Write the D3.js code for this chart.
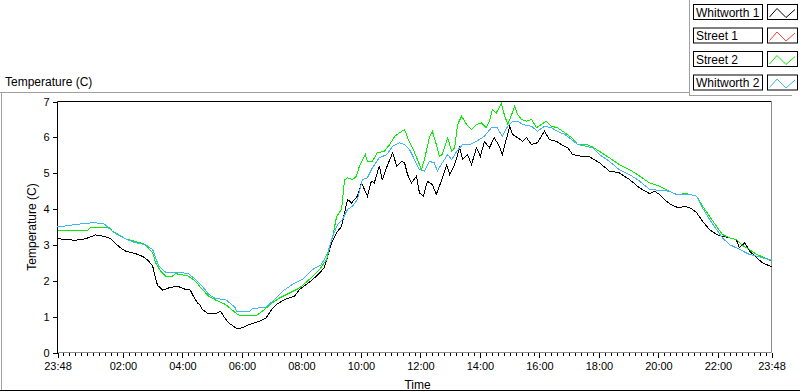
<!DOCTYPE html>
<html>
<head>
<meta charset="utf-8">
<script src="https://cdnjs.cloudflare.com/ajax/libs/d3/7.8.5/d3.min.js"></script>
<style>
  body { margin: 0; background: #fff; }
  text { font-family: "Liberation Sans", Arial, sans-serif; fill: #000; }
</style>
</head>
<body>
<script>
// Series data: [minutes after 23:48, temperature C]
var whitworth1 = [
  [0,3.18],[16,3.15],[36,3.13],[56,3.17],[77,3.28],[97,3.23],[107,3.17],[117,3.04],[127,2.92],[137,2.83],
  [157,2.76],[173,2.67],[184,2.55],[192,2.41],[198,2.04],[202,1.87],[212,1.74],[224,1.80],[242,1.85],[258,1.76],
  [268,1.74],[274,1.57],[282,1.39],[288,1.31],[292,1.20],[303,1.09],[319,1.09],[329,1.15],[335,1.01],[345,0.83],
  [359,0.69],[367,0.66],[387,0.78],[407,0.87],[421,0.97],[432,1.20],[442,1.34],[458,1.48],[478,1.57],[488,1.76],
  [508,1.96],[524,2.15],[538,2.36],[545,2.69],[553,3.06],[563,3.34],[573,3.52],[579,3.90],[585,4.27],[593,4.17],
  [599,4.27],[605,4.36],[613,4.73],[619,4.55],[625,4.36],[633,4.78],[639,4.73],[649,5.20],[655,4.82],[666,5.24],
  [676,5.57],[684,5.20],[694,5.33],[700,5.29],[706,4.96],[714,4.73],[724,4.92],[730,4.45],[738,4.36],[746,4.78],
  [756,4.68],[764,4.41],[774,4.78],[785,5.24],[791,4.96],[801,5.24],[811,5.71],[817,5.38],[827,5.52],[835,5.24],
  [845,5.71],[853,5.47],[861,5.89],[871,5.71],[881,5.99],[891,5.75],[897,5.52],[906,5.99],[912,6.31],[918,6.08],
  [928,5.99],[938,5.89],[946,5.99],[956,5.80],[968,5.85],[982,6.17],[992,5.94],[1006,5.89],[1016,5.80],[1029,5.71],
  [1039,5.52],[1057,5.47],[1073,5.46],[1093,5.29],[1113,5.06],[1133,5.01],[1154,4.82],[1174,4.59],[1194,4.43],[1204,4.50],
  [1214,4.41],[1228,4.22],[1240,4.10],[1254,4.03],[1265,4.08],[1279,4.01],[1289,3.90],[1301,3.66],[1315,3.43],[1329,3.29],
  [1341,3.24],[1355,3.20],[1369,3.15],[1375,2.92],[1386,3.06],[1396,2.83],[1410,2.64],[1422,2.50],[1440,2.39]
];

var street1 = [];

var street2 = [
  [0,3.40],[61,3.40],[67,3.50],[103,3.50],[111,3.38],[123,3.29],[137,3.17],[157,3.10],[177,3.01],[192,2.78],
  [198,2.50],[208,2.27],[218,2.13],[232,2.13],[238,2.20],[264,2.13],[278,1.99],[292,1.76],[305,1.57],[319,1.46],
  [339,1.34],[359,1.11],[367,1.03],[401,1.03],[413,1.15],[434,1.39],[448,1.52],[468,1.66],[488,1.80],[508,2.04],
  [528,2.31],[543,2.59],[549,2.96],[555,3.24],[563,3.80],[573,3.99],[579,4.82],[585,4.87],[595,4.82],[603,4.92],
  [609,5.20],[621,5.52],[625,5.33],[635,5.33],[645,5.57],[659,5.61],[670,5.80],[680,6.03],[690,6.13],[700,6.22],
  [706,5.99],[716,5.71],[726,5.38],[734,5.10],[740,5.38],[750,5.99],[756,6.17],[764,5.80],[770,5.47],[776,5.52],
  [787,5.99],[795,5.61],[801,5.71],[807,6.36],[815,6.59],[825,6.36],[835,6.22],[845,6.36],[855,6.40],[865,6.27],
  [871,6.45],[877,6.78],[885,6.68],[895,6.95],[901,6.64],[908,6.36],[916,6.64],[922,6.87],[928,6.64],[936,6.50],
  [946,6.45],[956,6.50],[966,6.27],[976,6.36],[986,6.45],[996,6.31],[1008,6.27],[1023,6.13],[1037,5.99],[1049,5.80],
  [1067,5.80],[1079,5.73],[1093,5.61],[1113,5.43],[1133,5.24],[1154,5.10],[1174,4.92],[1194,4.73],[1214,4.64],[1234,4.50],
  [1248,4.41],[1269,4.43],[1289,4.36],[1301,4.08],[1315,3.80],[1329,3.52],[1341,3.29],[1355,3.20],[1369,3.15],[1382,2.98],
  [1396,2.87],[1410,2.73],[1422,2.67],[1440,2.55]
];

var whitworth2 = [
  [0,3.50],[36,3.57],[71,3.62],[93,3.60],[101,3.50],[113,3.35],[137,3.17],[157,3.06],[177,3.01],[192,2.87],
  [204,2.41],[218,2.24],[244,2.24],[264,2.20],[278,2.04],[292,1.85],[305,1.62],[319,1.50],[339,1.48],[359,1.25],
  [361,1.13],[387,1.15],[393,1.22],[421,1.27],[434,1.43],[454,1.71],[474,1.90],[494,2.04],[514,2.31],[532,2.45],
  [545,2.78],[555,3.24],[565,3.57],[575,3.71],[585,3.99],[595,4.08],[605,4.27],[615,4.82],[625,4.87],[635,5.15],
  [649,5.43],[664,5.52],[676,5.75],[690,5.85],[700,5.80],[710,5.66],[720,5.38],[730,5.10],[740,5.06],[750,5.33],
  [760,5.29],[766,5.06],[776,5.29],[787,5.52],[795,5.38],[805,5.61],[817,5.80],[831,5.80],[845,5.89],[861,6.03],
  [875,6.27],[887,6.27],[897,6.03],[908,6.31],[918,6.45],[928,6.45],[938,6.36],[956,6.31],[968,6.17],[982,6.31],
  [996,6.27],[1008,6.17],[1023,6.08],[1037,5.94],[1049,5.80],[1067,5.75],[1079,5.71],[1093,5.52],[1113,5.33],[1133,5.10],
  [1154,4.96],[1174,4.78],[1194,4.55],[1214,4.52],[1234,4.50],[1248,4.41],[1275,4.41],[1289,4.36],[1301,4.03],[1315,3.71],
  [1329,3.43],[1341,3.20],[1355,3.01],[1369,2.92],[1382,2.83],[1396,2.73],[1410,2.69],[1422,2.64],[1440,2.59]
];

var seriesNames = ["Whitworth 1", "Street 1", "Street 2", "Whitworth 2"];
var seriesColors = ["#000000", "#ff3c3c", "#00f000", "#40b4f4"];
var seriesData = [whitworth1, street1, street2, whitworth2];

var xTickLabels = ["23:48", "02:00", "04:00", "06:00", "08:00", "10:00", "12:00",
  "14:00", "16:00", "18:00", "20:00", "22:00", "23:48"];
var yTickValues = [0, 1, 2, 3, 4, 5, 6, 7];

// SVG area
var svgWidth = 800;
var svgHeight = 392;

var plot = { left: 57.5, right: 771.5, top: 101.5, bottom: 352.5 };

var svg = d3.select("body")
  .append("svg")
  .attr("width", svgWidth)
  .attr("height", svgHeight);

// scales
var xScale = d3.scaleLinear().domain([0, 1440]).range([plot.left, plot.right]);
var yScale = d3.scaleLinear().domain([0, 7]).range([plot.bottom, plot.top]);

// label -> minutes after 23:48
function labelMinutes(lbl, i) {
  if (i === xTickLabels.length - 1) return 1440;
  var p = lbl.split(":");
  var m = (+p[0]) * 60 + (+p[1]);
  return (m - (23 * 60 + 48) + 1440) % 1440;
}
var xTickValues = xTickLabels.map(labelMinutes);
var minorTicks = d3.range(0, 1441, 12);

// outer panel frame
svg.append("line").attr("x1", 0).attr("x2", 689).attr("y1", 92.5).attr("y2", 92.5).attr("stroke", "#a0a0a0");
svg.append("line").attr("x1", 1.5).attr("x2", 1.5).attr("y1", 92).attr("y2", 391).attr("stroke", "#a0a0a0");
svg.append("line").attr("x1", 0).attr("x2", 800).attr("y1", 390.5).attr("y2", 390.5).attr("stroke", "#000");
svg.append("line").attr("x1", 689.5).attr("x2", 689.5).attr("y1", 0).attr("y2", 95).attr("stroke", "#a0a0a0");
svg.append("line").attr("x1", 689).attr("x2", 792).attr("y1", 95.5).attr("y2", 95.5).attr("stroke", "#a0a0a0");

// title top-left
svg.append("text")
  .attr("x", 5)
  .attr("y", 86)
  .style("font-size", "12px")
  .text("Temperature (C)");

// y axis
var leftAxis = d3.axisLeft(yScale).tickValues(yTickValues).tickSize(5).tickPadding(3).tickFormat(d3.format("d"));
svg.append("g")
  .attr("transform", "translate(" + plot.left + ",0)")
  .call(leftAxis)
  .call(g => g.select(".domain").remove())
  .call(g => g.selectAll("text").style("font-size", "11px").attr("fill", "#000"))
  .call(g => g.selectAll("line").attr("shape-rendering", "crispEdges"));

// x axis minor ticks
svg.append("g")
  .attr("transform", "translate(0," + plot.bottom + ")")
  .call(d3.axisBottom(xScale).tickValues(minorTicks).tickSize(3).tickFormat(""))
  .call(g => g.select(".domain").remove())
  .call(g => g.selectAll("line").attr("shape-rendering", "crispEdges"));

// x axis major ticks + labels
svg.append("g")
  .attr("transform", "translate(0," + plot.bottom + ")")
  .call(d3.axisBottom(xScale).tickValues(xTickValues).tickSize(5).tickPadding(5)
    .tickFormat((d, i) => xTickLabels[i]))
  .call(g => g.select(".domain").remove())
  .call(g => g.selectAll("text").style("font-size", "11px").attr("fill", "#000"))
  .call(g => g.selectAll("line").attr("shape-rendering", "crispEdges"));

// plot frame: top/left black, bottom/right grey
svg.append("line").attr("x1", plot.left).attr("x2", plot.right).attr("y1", plot.top).attr("y2", plot.top).attr("stroke", "#000");
svg.append("line").attr("x1", plot.left).attr("x2", plot.left).attr("y1", plot.top).attr("y2", plot.bottom + 1).attr("stroke", "#000");
svg.append("line").attr("x1", plot.left + 1).attr("x2", plot.right).attr("y1", plot.bottom).attr("y2", plot.bottom).attr("stroke", "#8c8c8c");
svg.append("line").attr("x1", plot.right).attr("x2", plot.right).attr("y1", plot.top).attr("y2", plot.bottom).attr("stroke", "#8c8c8c");

// lines (aliased 1px, like the instrument display)
var line = d3.line()
  .x(d => xScale(d[0]))
  .y(d => yScale(d[1]));

svg.append("g")
  .selectAll("path")
  .data(seriesData)
  .enter()
  .append("path")
  .attr("d", d => d.length ? line(d) : null)
  .attr("fill", "none")
  .attr("stroke", (d, i) => seriesColors[i])
  .attr("stroke-width", 1)
  .attr("shape-rendering", "crispEdges");

// axis titles
svg.append("text")
  .attr("transform", "translate(36," + ((plot.top + plot.bottom) / 2) + ") rotate(-90)")
  .attr("text-anchor", "middle")
  .style("font-size", "12px")
  .attr("fill", "#200018")
  .text("Temperature (C)");

svg.append("text")
  .attr("x", (plot.left + plot.right) / 2 + 3)
  .attr("y", 389)
  .attr("text-anchor", "middle")
  .style("font-size", "12px")
  .text("Time");

// legend
var legend = svg.append("g");
var rows = legend.selectAll("g")
  .data(seriesNames)
  .enter()
  .append("g")
  .attr("transform", (d, i) => "translate(0," + (4 + i * 23.5) + ")");

rows.append("rect")
  .attr("x", 693.5).attr("y", 0.5)
  .attr("width", 69).attr("height", 15)
  .attr("fill", "#fff").attr("stroke", "#000");

rows.append("text")
  .attr("x", 696).attr("y", 12.5)
  .style("font-size", "12px")
  .text(d => d);

rows.append("rect")
  .attr("x", 767.5).attr("y", 0.5)
  .attr("width", 30).attr("height", 15)
  .attr("fill", "#fff").attr("stroke", "#000");

rows.append("polyline")
  .attr("points", "769.5,13 777,4.5 786,13.5 795,5.5")
  .attr("fill", "none")
  .attr("stroke", (d, i) => seriesColors[i]);
</script>
</body>
</html>
